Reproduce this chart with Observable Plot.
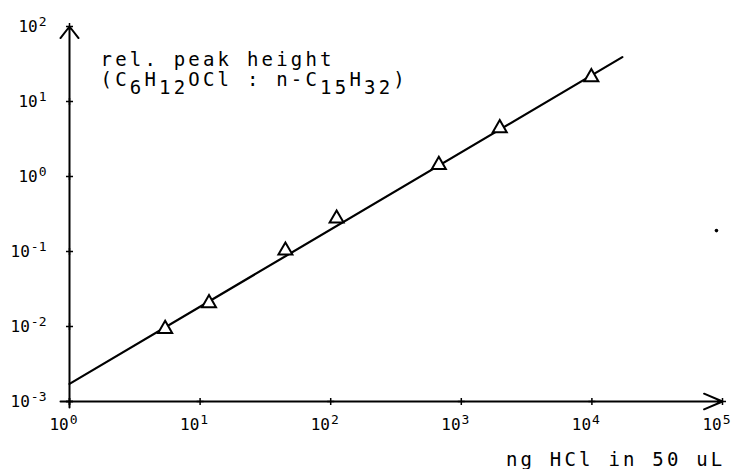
<!DOCTYPE html>
<html><head><meta charset="utf-8">
<script src="https://cdn.jsdelivr.net/npm/d3@7"></script>
<script src="https://cdn.jsdelivr.net/npm/@observablehq/plot@0.6"></script>
<style>body{margin:0;background:#fff}</style>
</head><body><div id="chart"></div>
<script>
// measured calibration points (triangles)
const amountHCl = [5.4, 11.7, 45, 111, 673, 1970, 9900];
const peakRatio = [0.0093, 0.0205, 0.103, 0.275, 1.43, 4.41, 21.1];
// fitted line end points
const fitX = [1, 17100];
const fitY = [0.00172, 39];
// stray plotter dot
const strayX = [89900];
const strayY = [0.19];
// axes
const xDomain = [1, 1e5];
const yDomain = [1e-3, 1e2];
const xTicks = [1, 10, 100, 1000, 10000, 100000];
const yTicks = [0.001, 0.01, 0.1, 1, 10, 100];
const xTickLabels = ["10⁰", "10¹", "10²", "10³", "10⁴", "10⁵"];
const yTickLabels = ["10⁻³", "10⁻²", "10⁻¹", "10⁰", "10¹", "10²"];
const titleLine1 = "rel. peak height";
const titleLine2 = "(C₆H₁₂OCl : n-C₁₅H₃₂)";
const xLabel = "ng HCl in 50 uL";

const points = amountHCl.map((x, i) => ({x, y: peakRatio[i]}));
const fit = fitX.map((x, i) => ({x, y: fitY[i]}));
const stray = strayX.map((x, i) => ({x, y: strayY[i]}));

const FONT = "DejaVu Sans Mono";

const plot = Plot.plot({
  width: 733,
  height: 469,
  marginTop: 26,
  marginRight: 11,
  marginBottom: 68,
  marginLeft: 69,
  style: {fontFamily: FONT, fontSize: "16px", color: "black", background: "white"},
  x: {type: "log", domain: xDomain},
  y: {type: "log", domain: yDomain},
  marks: [
    Plot.axisX({ticks: xTicks, tickFormat: d => xTickLabels[xTicks.indexOf(d)], tickSize: 0, tickPadding: 17, dx: -6, label: null, fontSize: 16}),
    Plot.axisY({ticks: yTicks, tickFormat: d => yTickLabels[yTicks.indexOf(d)], tickSize: 0, tickPadding: 23, label: null, fontSize: 16}),
    Plot.arrow([0], {x1: () => xDomain[0], x2: () => xDomain[1], y1: () => yDomain[0], y2: () => yDomain[0],
      stroke: "black", strokeWidth: 2, headLength: 15, headAngle: 46, insetStart: -9}),
    Plot.arrow([0], {x1: () => xDomain[0], x2: () => xDomain[0], y1: () => yDomain[0], y2: () => yDomain[1],
      stroke: "black", strokeWidth: 2, headLength: 11, headAngle: 76, insetStart: -6}),
    Plot.dot(xTicks, {x: d => d, frameAnchor: "bottom", symbol: "plus", r: 2.4, stroke: "black", strokeWidth: 1.5}),
    Plot.dot(yTicks, {y: d => d, frameAnchor: "left", symbol: "plus", r: 2.4, stroke: "black", strokeWidth: 1.5}),
    Plot.line(fit, {x: "x", y: "y", stroke: "black", strokeWidth: 2.2}),
    Plot.dot(points, {x: "x", y: "y", symbol: "triangle", r: 5.2, stroke: "black", fill: "white", strokeWidth: 2}),
    Plot.dot(stray, {x: "x", y: "y", r: 1.8, fill: "black"}),
    Plot.text([titleLine1], {text: d => d, frameAnchor: "top-left", textAnchor: "start", lineAnchor: "bottom", dx: 31, dy: 39, fontSize: 19}),
    Plot.text([titleLine2], {text: d => d, frameAnchor: "top-left", textAnchor: "start", lineAnchor: "bottom", dx: 31, dy: 59, fontSize: 19}),
    Plot.text([xLabel], {text: d => d, frameAnchor: "bottom-right", textAnchor: "end", lineAnchor: "bottom", dx: 3, dy: 64, fontSize: 19})
  ]
});

// convert unicode super/subscripts into shifted tspans (plotter style)
const SUP = {"⁰":"0","¹":"1","²":"2","³":"3","⁴":"4","⁵":"5","⁻":"-"};
const SUB = {"₀":"0","₁":"1","₂":"2","₃":"3","₅":"5","₆":"6"};
const svgNS = "http://www.w3.org/2000/svg";
plot.querySelectorAll("text").forEach(t => {
  const s = t.textContent;
  if ([titleLine1, titleLine2, xLabel].includes(s)) t.setAttribute("letter-spacing", "3.2px");
  if (!/[⁰¹²³⁴⁵⁻₀₁₂₃₅₆]/.test(s)) return;
  const runs = [];
  for (const ch of s) {
    const type = SUP[ch] ? "sup" : SUB[ch] ? "sub" : "n";
    const c = SUP[ch] || SUB[ch] || ch;
    if (runs.length && runs[runs.length - 1].type === type) runs[runs.length - 1].text += c;
    else runs.push({type, text: c});
  }
  while (t.firstChild) t.removeChild(t.firstChild);
  let shift = 0;
  for (const r of runs) {
    const ts = document.createElementNS(svgNS, "tspan");
    const target = r.type === "sup" ? -6 : r.type === "sub" ? 8.5 : 0;
    if (target !== shift) ts.setAttribute("dy", target - shift);
    shift = target;
    if (r.type === "sup") { ts.setAttribute("font-size", "13px"); ts.setAttribute("dx", "1"); }
    ts.textContent = r.text;
    t.appendChild(ts);
  }
});

document.getElementById("chart").appendChild(plot);
</script>
</body></html>
